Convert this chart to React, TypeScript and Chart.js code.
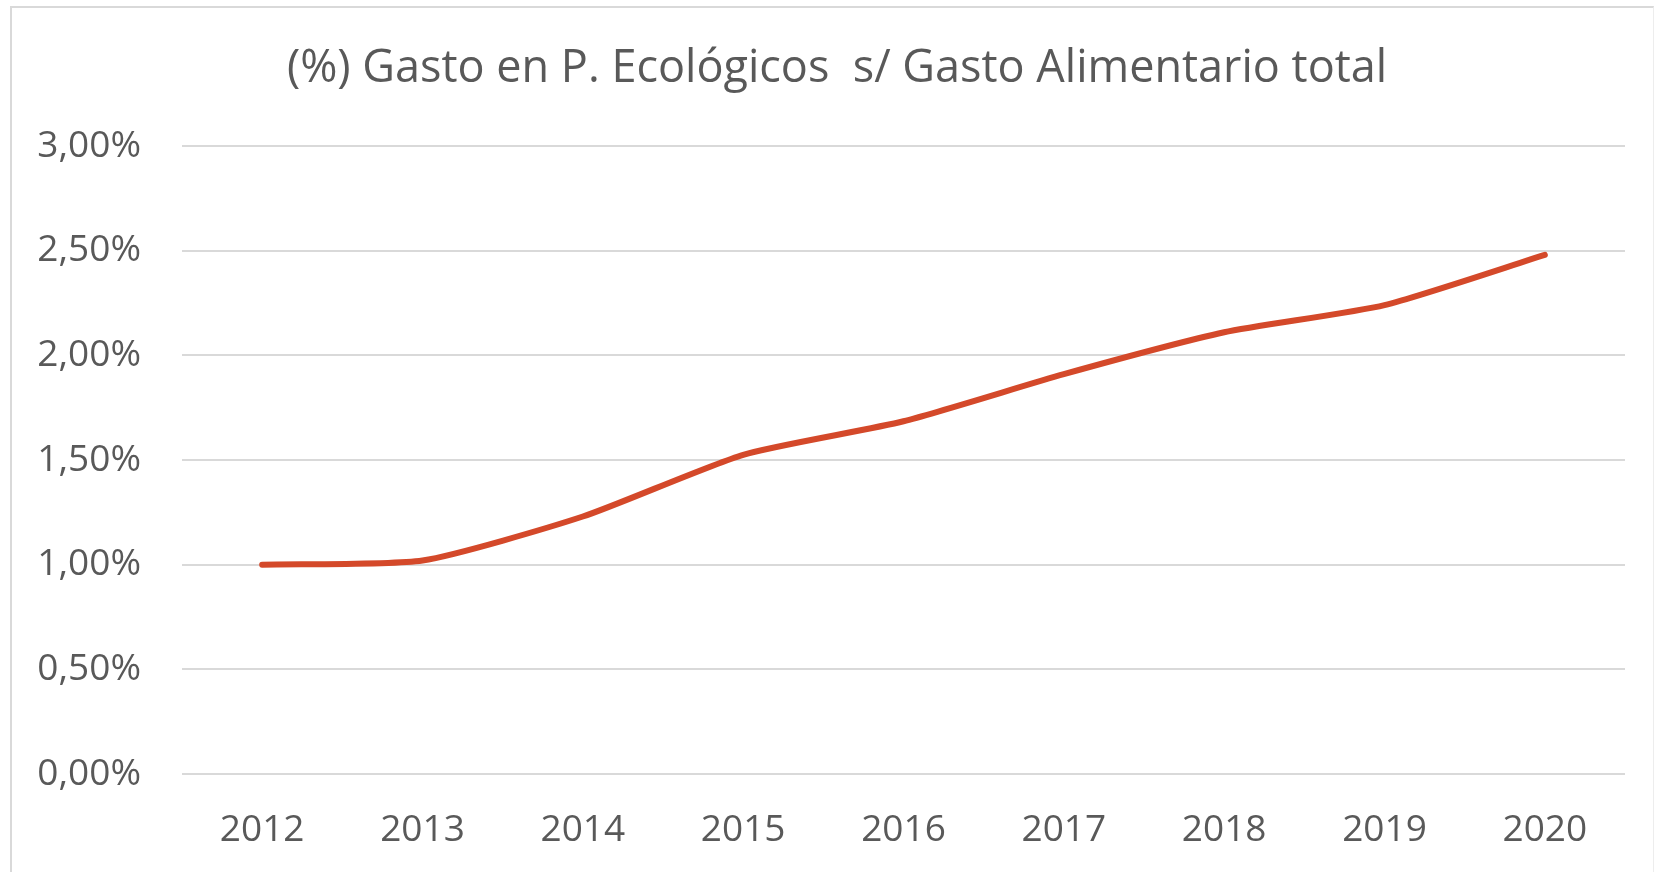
import React, { useEffect, useRef } from "react";
import { Chart, registerables } from "chart.js";

Chart.register(...registerables);

const TITLE = "(%) Gasto en P. Ecológicos  s/ Gasto Alimentario total";
const YEARS = ["2012", "2013", "2014", "2015", "2016", "2017", "2018", "2019", "2020"];
const SHARE_PCT = [1.0, 1.02, 1.23, 1.525, 1.685, 1.91, 2.11, 2.24, 2.48];
const Y_MIN = 0;
const Y_MAX = 3;
const Y_STEP = 0.5;

const FONT = "'Open Sans', 'DejaVu Sans', sans-serif";
const TEXT = "#595959";
const GRID = "#D9D9D9";
const LINE = "#D4492A";

const titlePlugin = {
  id: "centeredTitle",
  afterDraw(chart: any) {
    const ctx = chart.ctx;
    ctx.save();
    ctx.font = `normal 45px ${FONT}`;
    ctx.fillStyle = TEXT;
    ctx.textAlign = "center";
    ctx.textBaseline = "middle";
    ctx.fillText(TITLE, 837, 69);
    ctx.restore();
  },
};

export default function App() {
  const ref = useRef<HTMLCanvasElement | null>(null);

  useEffect(() => {
    const prevMargin = document.body.style.margin;
    document.body.style.margin = "0";
    const canvas = ref.current;
    if (!canvas) return;
    const chart = new Chart(canvas, {
      type: "line",
      data: {
        labels: YEARS,
        datasets: [
          {
            data: SHARE_PCT,
            borderColor: LINE,
            backgroundColor: LINE,
            borderWidth: 6,
            pointRadius: 0,
            tension: 0.2,
            borderCapStyle: "round",
            borderJoinStyle: "round",
          },
        ],
      },
      plugins: [titlePlugin],
      options: {
        responsive: false,
        animation: false,
        layout: { padding: { top: 146, right: 35, bottom: 0, left: 0 } },
        plugins: {
          legend: { display: false },
          tooltip: { enabled: false },
          title: { display: false },
        },
        scales: {
          x: {
            offset: true,
            grid: { display: false, drawTicks: false },
            border: { display: false },
            ticks: {
              color: TEXT,
              font: { family: FONT, size: 37 },
              padding: 34,
              maxRotation: 0,
            },
            afterFit: (s: any) => {
              s.height = 98;
            },
          },
          y: {
            min: Y_MIN,
            max: Y_MAX,
            grid: { color: GRID, lineWidth: 2, drawTicks: false },
            border: { display: false },
            ticks: {
              stepSize: Y_STEP,
              color: TEXT,
              font: { family: FONT, size: 37 },
              padding: 41,
              callback: (v: any) => Number(v).toFixed(2).replace(".", ",") + "%",
            },
            afterFit: (s: any) => {
              s.width = 182;
            },
          },
        },
      },
    });
    return () => {
      chart.destroy();
      document.body.style.margin = prevMargin;
    };
  }, []);

  return (
    <div style={{ position: "absolute", left: 0, top: 0, width: 1660, height: 872, background: "#fff" }}>
      <div
        style={{
          position: "absolute",
          left: 10,
          top: 6,
          width: 1644,
          height: 880,
          borderTop: `2px solid ${GRID}`,
          borderLeft: `2px solid ${GRID}`,
          borderRight: `1px solid #EDEDED`,
          boxSizing: "border-box",
        }}
      />
      <canvas ref={ref} width={1660} height={872} style={{ position: "absolute", left: 0, top: 0 }} />
    </div>
  );
}
